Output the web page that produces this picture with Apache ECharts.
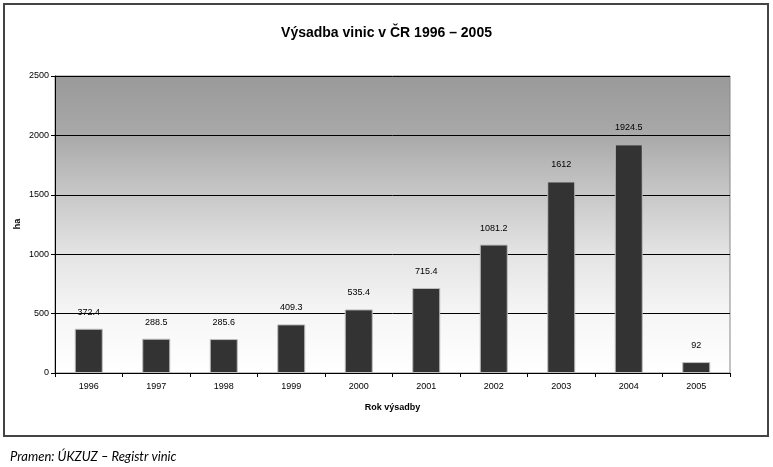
<!DOCTYPE html>
<html>
<head>
<meta charset="utf-8">
<script src="https://cdn.jsdelivr.net/npm/echarts@6/dist/echarts.min.js"></script>
<style>
  html, body { margin: 0; padding: 0; background: #fff; }
  #chart { width: 773px; height: 467px; }
</style>
</head>
<body>
<div id="chart"></div>
<script>
  // data
  const years = ['1996', '1997', '1998', '1999', '2000', '2001', '2002', '2003', '2004', '2005'];
  const hectares = [372.4, 288.5, 285.6, 409.3, 535.4, 715.4, 1081.2, 1612, 1924.5, 92];
  const yTicks = [0, 500, 1000, 1500, 2000, 2500];

  const chart = echarts.init(document.getElementById('chart'));

  const option = {
    backgroundColor: '#fff',
    animation: false,
    title: [
      {
        text: 'Výsadba vinic v ČR 1996 – 2005',
        left: 'center',
        top: 21,
        textStyle: { fontFamily: 'Liberation Sans', fontSize: 14, fontWeight: 'bold', color: '#000' }
      },
      {
        text: 'Pramen: ÚKZUZ – Registr vinic',
        left: 5,
        top: 445,
        textStyle: { fontFamily: 'Lato', fontSize: 13, fontStyle: 'italic', fontWeight: 'normal', color: '#000' }
      }
    ],
    graphic: [
      {
        type: 'rect',
        shape: { x: 4, y: 4, width: 764, height: 432 },
        style: { fill: 'none', stroke: '#444', lineWidth: 2 },
        z: 100
      },
      {
        // y axis title "ha"
        type: 'text',
        x: 18,
        y: 224,
        rotation: Math.PI / 2,
        style: {
          text: 'ha',
          fontFamily: 'Liberation Sans', fontSize: 9, fontWeight: 'bold', fill: '#000',
          align: 'center', verticalAlign: 'middle'
        }
      }
    ],
    grid: {
      left: 55, right: 43, top: 76, bottom: 94,
      show: true,
      borderColor: '#888',
      borderWidth: 1,
      backgroundColor: new echarts.graphic.LinearGradient(0, 0, 0, 1, [
        { offset: 0, color: '#999999' },
        { offset: 0.2, color: '#a9a9a9' },
        { offset: 0.4, color: '#c8c8c8' },
        { offset: 0.6, color: '#e4e4e4' },
        { offset: 0.8, color: '#f6f6f6' },
        { offset: 1, color: '#ffffff' }
      ])
    },
    xAxis: {
      type: 'category',
      data: years,
      name: 'Rok výsadby',
      nameLocation: 'middle',
      nameGap: 30,
      nameTextStyle: { fontFamily: 'Liberation Sans', fontSize: 9, fontWeight: 'bold', color: '#000' },
      axisLine: { lineStyle: { color: '#000', width: 1 } },
      axisTick: { show: true, length: 4, alignWithLabel: false, lineStyle: { color: '#000' } },
      axisLabel: { fontFamily: 'Liberation Sans', fontSize: 9, color: '#000', margin: 9 },
      splitLine: { show: false }
    },
    yAxis: {
      type: 'value',
      min: yTicks[0],
      max: yTicks[yTicks.length - 1],
      interval: 500,
      axisLine: { show: true, lineStyle: { color: '#000', width: 1 } },
      axisTick: { show: true, length: 4, lineStyle: { color: '#000' } },
      axisLabel: {
        fontFamily: 'Liberation Sans', fontSize: 9, color: '#000', margin: 6,
        formatter: v => String(v)
      },
      splitLine: { show: true, lineStyle: { color: '#000', width: 1 } }
    },
    series: [
      {
        type: 'bar',
        data: hectares,
        barWidth: 28,
        itemStyle: { color: '#333333', borderColor: '#bdbdbd', borderWidth: 1 },
        label: {
          show: true,
          position: 'top',
          distance: 12,
          fontFamily: 'Liberation Sans',
          fontSize: 9,
          color: '#000'
        }
      }
    ]
  };

  chart.setOption(option);
</script>
</body>
</html>
